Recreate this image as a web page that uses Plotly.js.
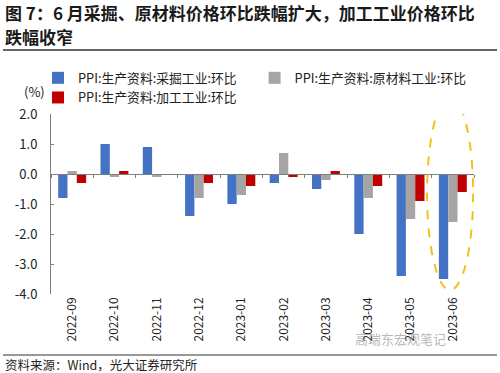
<!DOCTYPE html>
<html>
<head>
<meta charset="utf-8">
<script src="https://cdn.plot.ly/plotly-3.0.1.min.js"></script>
<style>html,body{margin:0;padding:0;background:#fff;}#chart{width:500px;height:373px;}</style>
</head>
<body>
<div id="chart"></div>
<script>
const categories = ["2022-09","2022-10","2022-11","2022-12","2023-01","2023-02","2023-03","2023-04","2023-05","2023-06"];
const seriesNames = ["PPI:生产资料:采掘工业:环比","PPI:生产资料:原材料工业:环比","PPI:生产资料:加工工业:环比"];
const mining    = [-0.8, 1.0, 0.9, -1.4, -1.0, -0.3, -0.5, -2.0, -3.4, -3.5];
const rawMat    = [0.1, -0.1, -0.1, -0.8, -0.7, 0.7, -0.2, -0.8, -1.5, -1.6];
const processing= [-0.3, 0.1, 0.0, -0.3, -0.4, -0.1, 0.1, -0.4, -0.9, -0.6];
const yTicks = [2, 1, 0, -1, -2, -3, -4];
const yTickText = ["2.0","1.0","0.0","-1.0","-2.0","-3.0","-4.0"];
const titleLines = ["图 7：6 月采掘、原材料价格环比跌幅扩大，加工工业价格环比", "跌幅收窄"];

const colors = ["#4472C4", "#A5A5A5", "#C00000"];
const font = "Noto Sans CJK SC, Noto Sans, sans-serif";

const traces = [mining, rawMat, processing].map((vals, i) => ({
  type: "bar", x: categories, y: vals, name: seriesNames[i],
  marker: {color: colors[i]}, hoverinfo: "skip"
}));
traces.push({
  type: "scatter", mode: "markers", x: categories, y: categories.map(() => 0),
  xaxis: "x2", marker: {opacity: 0}, showlegend: false, hoverinfo: "skip"
});

// pixel -> paper helpers for decoration placement
const L = 51, R = 26, T = 114, B = 79, W = 500, H = 373;
const pw = W - L - R, ph = H - T - B;
const px = x => (x - L) / pw;
const py = y => (H - B - y) / ph;

const titleFont = {family: font, size: 17, weight: "bold", color: "#1a1a1a"};

const layout = {
  width: W, height: H,
  margin: {l: L, r: R, t: T, b: B, pad: 0},
  paper_bgcolor: "#fff", plot_bgcolor: "#fff",
  font: {family: font, size: 12, color: "#222"},
  barmode: "group", bargap: 0.34, bargroupgap: 0,
  xaxis: {
    type: "category", categoryarray: categories, range: [-0.5, 9.5],
    showline: false, ticks: "", tickangle: -90, showgrid: false, zeroline: false,
    tickfont: {size: 12, color: "#222"}, fixedrange: true
  },
  xaxis2: {
    type: "category", categoryarray: categories, range: [-0.5, 9.5],
    overlaying: "x", anchor: "free", position: 2 / 3,
    showline: true, linecolor: "#7f7f7f", linewidth: 1,
    ticks: "outside", tickson: "boundaries", ticklen: 3, tickcolor: "#7f7f7f",
    showticklabels: false, showgrid: false, zeroline: false
  },
  yaxis: {
    range: [-4, 2], tickvals: yTicks, ticktext: yTickText,
    showline: true, linecolor: "#7f7f7f", linewidth: 1,
    ticks: "inside", ticklen: 3, tickcolor: "#7f7f7f", ticklabelstandoff: 10,
    showgrid: false, zeroline: false, tickfont: {size: 13, color: "#222"}
  },
  legend: {
    orientation: "h", x: px(38), xanchor: "left", y: py(63), yanchor: "top",
    traceorder: "normal",
    font: {size: 12.8, color: "#222"}, bgcolor: "rgba(0,0,0,0)", tracegroupgap: 0
  },
  annotations: [
    {text: titleLines[0], xref: "paper", yref: "paper", x: px(3), xanchor: "left",
     y: py(12), yanchor: "middle", showarrow: false, font: titleFont},
    {text: titleLines[1], xref: "paper", yref: "paper", x: px(3), xanchor: "left",
     y: py(36), yanchor: "middle", showarrow: false, font: titleFont},
    {text: "(%)", xref: "paper", yref: "paper", x: px(47), xanchor: "right", y: py(80),
     showarrow: false, font: {size: 13, color: "#222"}},
    {text: "资料来源：Wind，光大证券研究所", xref: "paper", yref: "paper",
     x: px(3), xanchor: "left", y: py(364), yanchor: "middle",
     showarrow: false, font: {size: 12.5, color: "#222"}},
    {text: "高瑞东宏观笔记", xref: "paper", yref: "paper",
     x: px(448), y: py(350), showarrow: false,
     font: {size: 13, color: "rgba(120,120,120,0.55)"}}
  ],
  shapes: [
    {type: "line", xref: "paper", yref: "paper", x0: px(3), x1: px(497), y0: py(50), y1: py(50),
     line: {color: "#333", width: 1.5}},
    {type: "line", xref: "paper", yref: "paper", x0: px(3), x1: px(497), y0: py(355), y1: py(355),
     line: {color: "#333", width: 1}},
    {type: "circle", xref: "x", yref: "y", x0: 8.39, x1: 9.48, y0: -3.87, y1: 2.57,
     line: {color: "#F2C21B", width: 2, dash: "dash"}}
  ]
};

Plotly.newPlot("chart", traces, layout, {staticPlot: true, displayModeBar: false});
</script>
</body>
</html>
